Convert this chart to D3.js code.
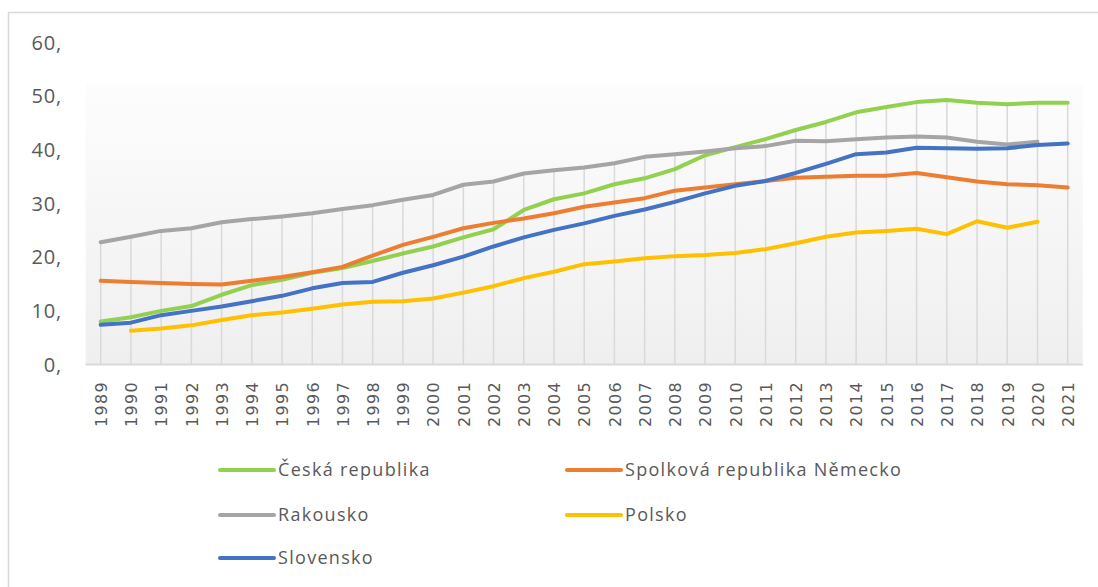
<!DOCTYPE html>
<html><head><meta charset="utf-8">
<script src="https://cdn.jsdelivr.net/npm/d3@7"></script>
<style>html,body{margin:0;padding:0;background:#fff;}svg{display:block;}</style>
</head><body>
<svg id="chart" width="1098" height="587"></svg>
<script>
const years = [1989,1990,1991,1992,1993,1994,1995,1996,1997,1998,1999,2000,2001,2002,2003,2004,2005,2006,2007,2008,2009,2010,2011,2012,2013,2014,2015,2016,2017,2018,2019,2020,2021];
const cesko = [7.9,8.7,9.9,10.8,12.9,14.7,15.7,17.0,17.9,19.2,20.6,21.9,23.6,25.1,28.7,30.7,31.8,33.5,34.6,36.3,38.9,40.4,41.9,43.6,45.1,46.9,47.9,48.8,49.2,48.7,48.4,48.7,48.7];
const nemecko = [15.5,15.3,15.1,14.9,14.8,15.5,16.2,17.1,18.1,20.2,22.2,23.7,25.3,26.3,27.1,28.1,29.3,30.1,30.9,32.3,32.9,33.5,34.1,34.7,34.9,35.1,35.1,35.6,34.8,34.0,33.5,33.3,32.9];
const rakousko = [22.7,23.7,24.8,25.3,26.4,27.0,27.5,28.1,28.9,29.6,30.6,31.5,33.4,34.0,35.5,36.1,36.6,37.4,38.6,39.1,39.6,40.2,40.6,41.6,41.5,41.9,42.2,42.4,42.2,41.4,40.9,41.4,null];
const polsko = [null,6.2,6.6,7.2,8.2,9.1,9.6,10.3,11.1,11.6,11.7,12.2,13.3,14.5,16.0,17.2,18.6,19.1,19.7,20.1,20.3,20.7,21.4,22.5,23.7,24.5,24.8,25.2,24.2,26.6,25.4,26.5,null];
const slovensko = [7.3,7.7,9.1,9.9,10.7,11.7,12.7,14.1,15.1,15.3,17.0,18.4,20.0,21.9,23.6,25.0,26.2,27.6,28.8,30.2,31.8,33.2,34.1,35.6,37.3,39.1,39.4,40.3,40.2,40.1,40.2,40.8,41.1];
const yTicks = [0,10,20,30,40,50,60];
const yTickLabels = ["0,","10,","20,","30,","40,","50,","60,"];
const seriesNames = ["Česká republika","Spolková republika Německo","Rakousko","Polsko","Slovensko"];
const seriesColors = ["#92d050","#ed7d31","#a5a5a5","#ffc000","#4472c4"];

const series = [cesko, nemecko, rakousko, polsko, slovensko].map((v,i)=>({name:seriesNames[i], color:seriesColors[i], values:v}));

const svg = d3.select("#chart");
const pLeft = 85.6, pRight = 1082.8, pTop = 42, pBottom = 364;

const x = d3.scalePoint().domain(years).range([pLeft,pRight]).padding(0.5);
const y = d3.scaleLinear().domain([0,60]).range([pBottom,pTop]);

// outer chart frame (left and top edges visible)
svg.append("path").attr("d","M8.5,600V12.5H1100").attr("fill","none").attr("stroke","#d9d9d9").attr("stroke-width",1.5);

// plot area gradient
const defs = svg.append("defs");
const grad = defs.append("linearGradient").attr("id","pa").attr("x1",0).attr("y1",0).attr("x2",0).attr("y2",1);
grad.append("stop").attr("offset","0%").attr("stop-color","#fdfdfd");
grad.append("stop").attr("offset","100%").attr("stop-color","#efefef");
svg.append("rect").attr("x",pLeft).attr("y",83).attr("width",pRight-pLeft).attr("height",pBottom-83).attr("fill","url(#pa)");

// drop lines from the highest point of each category
const g = svg.append("g");
years.forEach((yr,i)=>{
  const vals = series.map(s=>s.values[i]).filter(v=>v!=null);
  const mx = d3.max(vals);
  g.append("line").attr("x1",x(yr)).attr("x2",x(yr)).attr("y1",y(mx)).attr("y2",y(0))
    .attr("stroke","#d9d9d9").attr("stroke-width",1.5);
});

// x axis line
svg.append("line").attr("x1",pLeft).attr("x2",pRight).attr("y1",y(0)+0.5).attr("y2",y(0)+0.5).attr("stroke","#d9d9d9").attr("stroke-width",2);

// y labels
const yAxis = d3.axisLeft(y).tickValues(yTicks).tickSize(0).tickFormat((d,i)=>yTickLabels[i]);
const ya = svg.append("g").attr("transform","translate(66,0)").call(yAxis);
ya.select(".domain").remove();
ya.selectAll("text").attr("font-family","'Open Sans', sans-serif").attr("font-size",20).attr("letter-spacing","0.8px").attr("fill","#595959").attr("x",-4).attr("dy","0.35em");

// x labels
const xAxis = d3.axisBottom(x).tickSize(0);
const xa = svg.append("g").attr("transform",`translate(0,${pBottom})`).call(xAxis);
xa.select(".domain").remove();
xa.selectAll("text")
  .attr("font-family","'DejaVu Sans', sans-serif").attr("font-size",16).attr("fill","#595959")
  .attr("letter-spacing","1.3px")
  .attr("text-anchor","end")
  .attr("transform","rotate(-90)")
  .attr("x",-17).attr("y",0).attr("dy","0.36em");

// lines
const line = d3.line().defined(d=>d.v!=null).x(d=>x(d.yr)).y(d=>y(d.v));
series.forEach(s=>{
  svg.append("path").datum(years.map((yr,i)=>({yr, v:s.values[i]})))
    .attr("d",line).attr("fill","none").attr("stroke",s.color).attr("stroke-width",4)
    .attr("stroke-linejoin","round").attr("stroke-linecap","round");
});

// legend
const legPos = [[220,470],[567,470],[220,515],[567,515],[220,558]];
series.forEach((s,i)=>{
  const [lx,ly] = legPos[i];
  svg.append("line").attr("x1",lx).attr("x2",lx+54).attr("y1",ly).attr("y2",ly)
    .attr("stroke",s.color).attr("stroke-width",4).attr("stroke-linecap","round");
  svg.append("text").attr("x",lx+58).attr("y",ly).attr("dy","0.35em")
    .attr("font-family","'Open Sans', sans-serif").attr("font-size",18).attr("letter-spacing","1.3px")
    .attr("fill","#595959").text(s.name);
});
</script>
</body></html>
